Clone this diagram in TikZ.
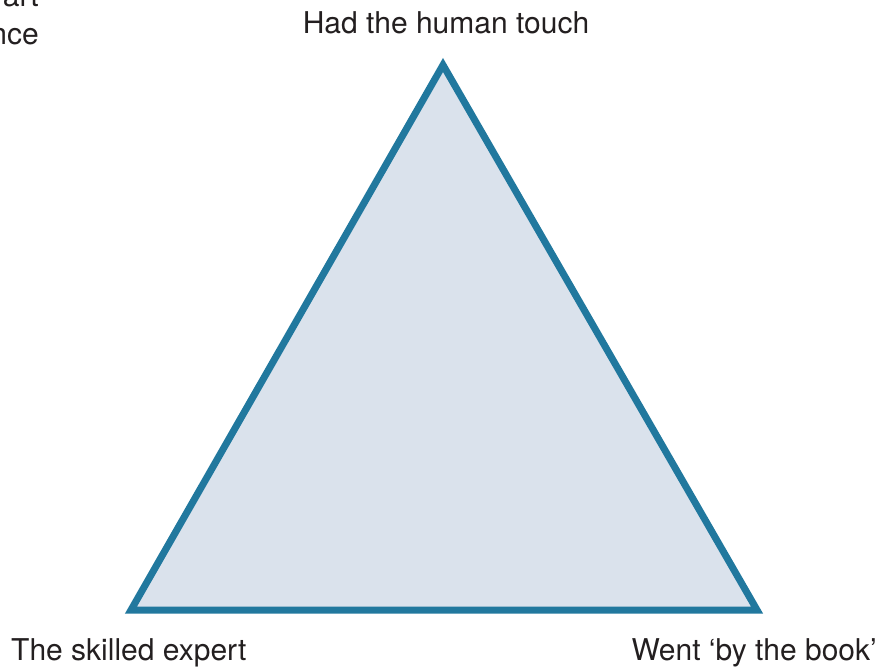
\documentclass[tikz,border=0pt]{standalone}
\usepackage{fontspec}
\setmainfont{TeX Gyre Heros}
\usetikzlibrary{positioning}
\definecolor{triLine}{HTML}{21789E}
\definecolor{triFill}{HTML}{DAE2EC}
\definecolor{lblText}{HTML}{231F20}

\begin{document}
\begin{tikzpicture}[x=1pt, y=-1pt,
  lbl/.style={font=\fontsize{30}{38}\selectfont, text=lblText, inner sep=0pt}]

\useasboundingbox (0,0) rectangle (880,667);
\clip (0,0) rectangle (880,667);

% --- CORNERS OF THE TRIANGLE ---
\coordinate (top)   at (443,65);
\coordinate (left)  at (131,610);
\coordinate (right) at (757,610);

\draw[triLine, fill=triFill, line width=7pt, line join=miter]
  (top) -- (left) -- (right) -- cycle;

% --- CORNER LABELS ---
\node[lbl, anchor=base] (lblTop) at (446,33) {Had the human touch};
\node[lbl, anchor=base west] (lblLeft) at (11,660) {The skilled expert};
\node[lbl, anchor=base east] (lblRight) at (877,660) {Went ‘by the book’};

% --- CUT-OFF LABEL (top left), base is the last line ---
\node[lbl, anchor=base east, align=right] (lblCut) at (39,44) {art\\nce};

\end{tikzpicture}
\end{document}
